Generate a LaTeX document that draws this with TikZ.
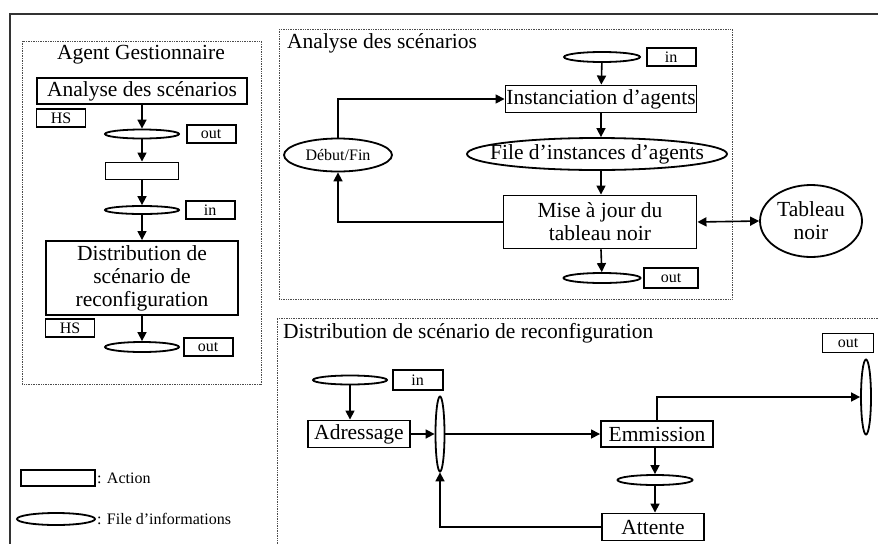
\documentclass[tikz,border=0pt]{standalone}
\usepackage{fontspec}
\setmainfont{Liberation Serif}
\usepackage{tikz}
\usetikzlibrary{positioning}
\usetikzlibrary{shapes.geometric}
\usetikzlibrary{arrows.meta}

\begin{document}
\begin{tikzpicture}
[
x=1pt, y=-1pt,
act-a/.style={rectangle, draw, line width=1.9pt, inner sep=0pt, font=\fontsize{21.5}{23}\selectfont, align=center},
file-a/.style={ellipse, draw, line width=1.8pt, inner sep=0pt},
tag-a/.style={rectangle, draw, line width=1.6pt, inner sep=0pt, minimum width=49pt, minimum height=18pt, font=\fontsize{16}{18}\selectfont},
text-a/.style={inner sep=0pt, font=\fontsize{21.5}{23}\selectfont},
text-b/.style={inner sep=0pt, font=\fontsize{16}{18}\selectfont},
zone-a/.style={densely dotted, line width=0.7pt, black!70},
flow-a/.style={line width=1.6pt, -{Triangle[length=9pt, width=9pt]}},
flow-b/.style={line width=1.6pt, {Triangle[length=9pt, width=9pt]}-{Triangle[length=9pt, width=9pt]}}
]

\useasboundingbox (0,0) rectangle (878,544);

% cadre et zones
\draw [line width=2pt, black!80] (878,14) -- (10,14) -- (10,544);
\draw [zone-a] (22,41) rectangle (261,384);
\draw [zone-a] (279,29) rectangle (732,299);
\draw [zone-a] (878,318) -- (277,318) -- (277,544);

% agent gestionnaire
\node (g-title) [text-a]                                                  at (141,55)  {Agent Gestionnaire};
\node (g-ana)   [act-a, minimum width=210pt, minimum height=26pt]          at (142,91)  {Analyse des scénarios};
\node (g-hs1)   [tag-a]                                                   at (61,118)  {HS};
\node (g-file1) [file-a, minimum width=74pt, minimum height=9pt]           at (142,134) {};
\node (g-out1)  [tag-a, right = 6pt of g-file1]                                        {out};
\node (g-act)   [act-a, minimum width=73pt, minimum height=17pt]           at (142,171) {};
\node (g-file2) [file-a, minimum width=74pt, minimum height=8pt]           at (142,210) {};
\node (g-in)    [tag-a, right = 5pt of g-file2]                                        {in};
\node (g-dist)  [act-a, minimum width=192pt, minimum height=74pt]          at (142,278) {Distribution de\\scénario de\\reconfiguration};
\node (g-hs2)   [tag-a]                                                   at (70,328)  {HS};
\node (g-file3) [file-a, minimum width=74pt, minimum height=10pt]          at (142,347) {};
\node (g-out2)  [tag-a, right = 3pt of g-file3]                                        {out};
\draw [flow-a] (g-ana)--(g-file1);
\draw [flow-a] (g-file1)--(g-act);
\draw [flow-a] (g-act)--(g-file2);
\draw [flow-a] (g-file2)--(g-dist);
\draw [flow-a] (g-dist)--(g-file3);

% legende
\node (leg-act)    [act-a, minimum width=74pt, minimum height=16pt]        at (58,478)  {};
\node (leg-act-t)  [text-b, anchor=west]                                  at (97,478)  {: Action};
\node (leg-file)   [file-a, minimum width=78pt, minimum height=12pt]       at (56,519)  {};
\node (leg-file-t) [text-b, anchor=west]                                  at (97,519)  {: File d’informations};

% analyse des scenarios
\node (a-title)    [text-a, anchor=west]                                  at (287,43)  {Analyse des scénarios};
\node (a-file-in)  [file-a, minimum width=76pt, minimum height=10pt]       at (602,57)  {};
\node (a-in)       [tag-a, right = 5pt of a-file-in]                                   {in};
\node (a-inst)     [act-a, minimum width=191pt, minimum height=27pt]       at (601,99)  {Instanciation d’agents};
\node (a-queue)    [file-a, minimum width=260pt, minimum height=32pt,
                    label={[text-a]center:File d’instances d’agents}]      at (597,154) {};
\node (a-maj)      [act-a, minimum width=193pt, minimum height=53pt]       at (600,222) {Mise à jour du\\tableau noir};
\node (a-file-out) [file-a, minimum width=77pt, minimum height=10pt]       at (602,278) {};
\node (a-out)      [tag-a, minimum width=54pt, minimum height=20pt, right = 2pt of a-file-out] {out};
\node (a-tab)      [file-a, minimum width=102pt, minimum height=72pt,
                    font=\fontsize{21.5}{23}\selectfont, align=center]    at (811,221) {Tableau\\noir};
\node (a-df)       [file-a, minimum width=108pt, minimum height=33pt,
                    font=\fontsize{16}{18}\selectfont]                    at (338,155) {Début/Fin};
\draw [flow-a] (a-file-in)--(a-inst);
\draw [flow-a] (a-inst.south)--(a-inst.south |- a-queue.north);
\draw [flow-a] (a-inst.south |- a-queue.south)--(a-inst.south |- a-maj.north);
\draw [flow-a] (a-maj)--(a-file-out);
\draw [flow-b] (a-maj.east)--(a-tab.west);
\draw [flow-a] (a-maj.west) -| (a-df.south);
\draw [flow-a] (a-df.north) |- (a-inst.west);

% distribution de scenario de reconfiguration
\node (d-title)    [text-a, anchor=west]                                  at (283,333) {Distribution de scénario de reconfiguration};
\node (d-file-in)  [file-a, minimum width=74pt, minimum height=9pt]        at (350,380) {};
\node (d-in)       [tag-a, minimum width=50pt, minimum height=20pt, right = 4pt of d-file-in] {in};
\node (d-adr)      [act-a, minimum width=102pt, minimum height=27pt]       at (359,434) {Adressage};
\node (d-merge)    [file-a, minimum width=9pt, minimum height=75pt]        at (440,434) {};
\node (d-emi)      [act-a, minimum width=112pt, minimum height=26pt]       at (657,434) {Emmission};
\node (d-file-mid) [file-a, minimum width=75pt, minimum height=10pt]       at (655,480) {};
\node (d-att)      [act-a, minimum width=102pt, minimum height=27pt]       at (653,527) {Attente};
\node (d-file-out) [file-a, minimum width=10pt, minimum height=75pt]       at (866,397) {};
\node (d-out)      [tag-a, minimum width=51pt, minimum height=19pt]        at (848,343) {out};
\draw [flow-a] (d-file-in.south)--(d-file-in.south |- d-adr.north);
\draw [flow-a] (d-adr)--(d-merge);
\draw [flow-a] (d-merge)--(d-emi);
\draw [flow-a] (d-file-mid.north |- d-emi.south)--(d-file-mid);
\draw [flow-a] (d-file-mid.south)--(d-file-mid.south |- d-att.north);
\draw [flow-a] (d-att.west) -| (d-merge.south);
\draw [flow-a] (d-emi.north) |- (d-file-out.west);

\end{tikzpicture}
\end{document}
